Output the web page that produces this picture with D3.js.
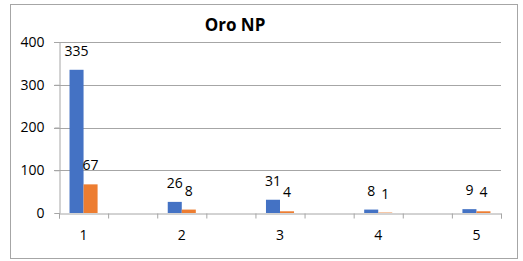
<!DOCTYPE html>
<html>
<head>
<meta charset="utf-8">
<script src="https://cdn.jsdelivr.net/npm/d3@7"></script>
<style>
  body { margin: 0; background: #fff; }
  text { font-family: "Open Sans", sans-serif; fill: #000; }
</style>
</head>
<body>
<svg width="523" height="261"></svg>
<script>
// 9 category slots on the axis, only every other one carries a label
const slotLabels = ["1", "", "2", "", "3", "", "4", "", "5"];
const seriesBlue = [335, null, 26, null, 31, null, 8, null, 9];
const seriesOrange = [67, null, 8, null, 4, null, 1, null, 4];
const yTicks = [0, 100, 200, 300, 400];

const colors = ["#4472C4", "#ED7D31"];
const margin = {top: 42, right: 22, bottom: 48, left: 59};
const width = 523, height = 261;
const plotW = width - margin.left - margin.right;
const plotH = height - margin.top - margin.bottom;

const svg = d3.select("svg");

// chart frame
svg.append("rect")
  .attr("x", 10.5).attr("y", 4.5)
  .attr("width", 507).attr("height", 254)
  .attr("fill", "none")
  .attr("stroke", "#a6a6a6");

// title
svg.append("text")
  .attr("x", 235).attr("y", 31)
  .attr("text-anchor", "middle")
  .attr("font-size", "17px")
  .attr("font-weight", "bold")
  .text("Oro NP");

const g = svg.append("g")
  .attr("transform", `translate(${margin.left}, ${margin.top})`);

const x0 = d3.scaleBand()
  .domain(d3.range(slotLabels.length))
  .range([0, plotW])
  .padding(0);

const x1 = d3.scaleBand()
  .domain([0, 1])
  .range([0, x0.bandwidth()])
  .paddingInner(0)
  .paddingOuter(0.75);

const y = d3.scaleLinear()
  .domain([0, 400])
  .range([plotH, 0]);

// gridlines
g.selectAll(".grid")
  .data(yTicks.filter(d => d > 0))
  .enter().append("line")
  .attr("x1", -5).attr("x2", plotW)
  .attr("y1", d => Math.round(y(d)) + 0.5)
  .attr("y2", d => Math.round(y(d)) + 0.5)
  .attr("stroke", "#a6a6a6");

// y axis
const yAxis = g.append("g")
  .attr("transform", "translate(0.5, 0)")
  .call(d3.axisLeft(y).tickValues(yTicks).tickSize(5).tickPadding(10));
yAxis.select(".domain").attr("stroke", "#a6a6a6");
yAxis.selectAll(".tick line").attr("stroke", "#a6a6a6");
yAxis.selectAll("text").attr("font-size", "14px").attr("font-family", "Open Sans");

// bars
const series = [seriesBlue, seriesOrange];
series.forEach((vals, si) => {
  const data = vals.map((v, i) => ({i: i, v: v})).filter(d => d.v !== null);
  g.selectAll(".bar" + si)
    .data(data)
    .enter().append("rect")
    .attr("x", d => x0(d.i) + x1(si))
    .attr("y", d => y(d.v))
    .attr("width", x1.bandwidth())
    .attr("height", d => plotH - y(d.v))
    .attr("fill", colors[si]);

  g.selectAll(".label" + si)
    .data(data)
    .enter().append("text")
    .attr("x", d => x0(d.i) + x1(si) + x1.bandwidth() / 2)
    .attr("y", d => y(d.v) - 14)
    .attr("text-anchor", "middle")
    .attr("font-size", "14px")
    .text(d => d.v);
});

// x axis with ticks at every slot boundary
const xLin = d3.scaleLinear().domain([0, slotLabels.length]).range([0, plotW]);
const xAxis = g.append("g")
  .attr("transform", `translate(0, ${Math.round(plotH) + 0.5})`)
  .call(d3.axisBottom(xLin).tickValues(d3.range(slotLabels.length + 1)).tickSize(5).tickSizeOuter(5).tickFormat(""));
xAxis.select(".domain").attr("stroke", "#a6a6a6");
xAxis.selectAll(".tick line").attr("stroke", "#a6a6a6");

g.selectAll(".xlab")
  .data(slotLabels)
  .enter().append("text")
  .attr("x", (d, i) => x0(i) + x0.bandwidth() / 2)
  .attr("y", plotH + 27)
  .attr("text-anchor", "middle")
  .attr("font-size", "14px")
  .text(d => d);
</script>
</body>
</html>
